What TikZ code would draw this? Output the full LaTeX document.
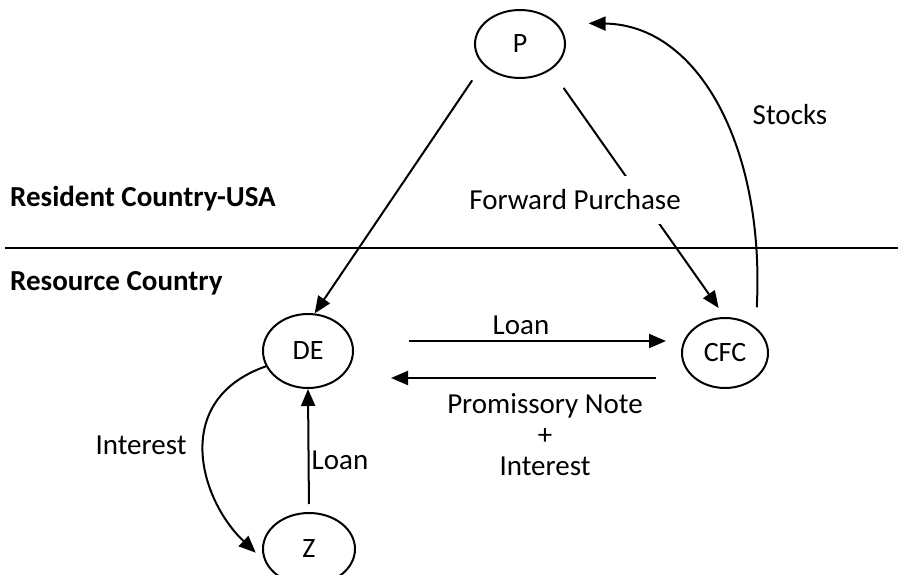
\documentclass[tikz,border=0pt]{standalone}
\usepackage{fontspec}
\setmainfont{Carlito}
\usetikzlibrary{arrows.meta,shapes.geometric}
\begin{document}
\begin{tikzpicture}[x=1pt,y=-1pt,
  ent/.style={draw,ellipse,line width=2pt,inner sep=0pt,font=\fontsize{28}{32}\selectfont},
  lbl/.style={font=\fontsize{29}{31}\selectfont,inner sep=0pt},
  hdr/.style={font=\fontsize{29}{32}\selectfont\bfseries,inner sep=0pt,anchor=west},
  conn/.style={line width=2pt},
  arr/.style={conn,-{Triangle[length=17pt,width=14pt]}}]
\useasboundingbox (0,0) rectangle (898,575);
\clip (0,0) rectangle (898,575);
% nodes
\node[ent,minimum width=90pt,minimum height=68pt] (P) at (520,44) {P};
\node[ent,minimum width=90pt,minimum height=74pt] (DE) at (308,351) {DE};
\node[ent,minimum width=86pt,minimum height=70pt] (CFC) at (725,353) {CFC};
\node[ent,minimum width=92pt,minimum height=72pt] (Z) at (309,549) {Z};
% border line
\coordinate (bl) at (5,248);
\coordinate (br) at (898,248);
\draw[conn] (bl) -- (br);
% headers
\node[hdr] (res) at (10,199) {Resident Country-USA};
\node[hdr] (src) at (10,283) {Resource Country};
% connectors
\draw[arr,shorten <=19pt] (P.209) -- (DE.80);
\draw[arr,shorten <=22pt,shorten >=11pt] (P.-40) -- (CFC.north);
\node[lbl,fill=white,inner xsep=2pt,inner ysep=14pt] (fp) at (575,200) {Forward Purchase};
\draw[arr,shorten <=20pt,shorten >=32pt] (CFC.40) .. controls (765,150) and (700,25) .. (P.30);
\node[lbl] (stk) at (790,115) {Stocks};
\draw[arr] ([xshift=55pt,yshift=10pt]DE.east) -- ([xshift=-15pt,yshift=12pt]CFC.west);
\node[lbl] (loan1) at (521,325) {Loan};
\draw[arr] ([xshift=-25pt,yshift=-25pt]CFC.west) -- ([xshift=37pt,yshift=-27pt]DE.east);
\node[lbl,align=center] (pn) at (545,435) {Promissory Note\\+\\Interest};
\draw[arr,shorten <=8pt] (Z.north) -- (DE.south);
\node[lbl] (loan2) at (340,460) {Loan};
\draw[arr,shorten >=12pt] (DE.200) .. controls (170,400) and (200,500) .. (Z.195);
\node[lbl] (int) at (141,445) {Interest};
\end{tikzpicture}
\end{document}
